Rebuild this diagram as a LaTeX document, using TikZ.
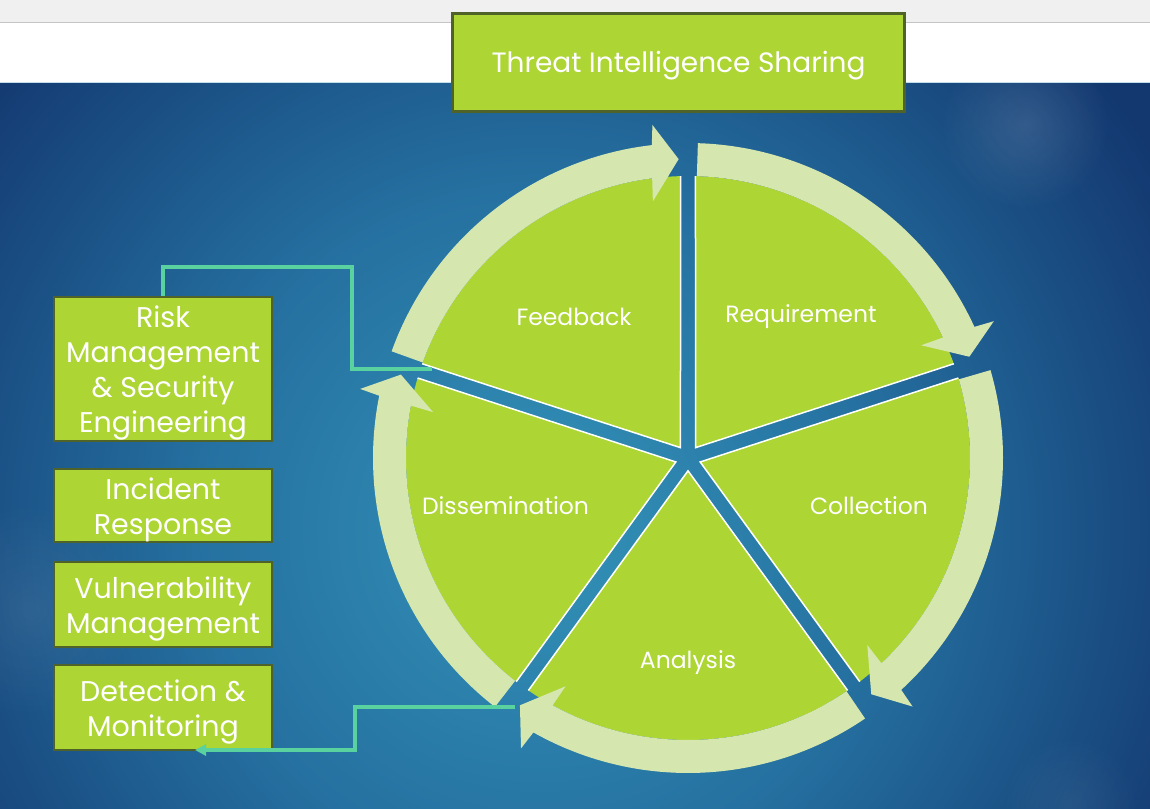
\documentclass[tikz,border=0pt]{standalone}
\usepackage{fontspec}
\setmainfont{Poppins}
\usetikzlibrary{arrows.meta,fadings}
\definecolor{wedgegreen}{HTML}{ADD533}
\definecolor{ringgreen}{HTML}{D5E7AF}
\definecolor{boxborder}{HTML}{4F6228}
\definecolor{navyc}{HTML}{133870}
\definecolor{midc}{HTML}{2570A0}
\definecolor{tealc}{HTML}{3393B8}
\definecolor{connc}{HTML}{5AD2A0}
\definecolor{topgray}{HTML}{F0F0F0}
\definecolor{linegray}{HTML}{C4C4C4}
\pgfdeclareradialshading{bgshade}{\pgfpoint{0bp}{0bp}}{color(0bp)=(tealc); color(6bp)=(midc); color(12.5bp)=(navyc); color(25bp)=(navyc); color(50bp)=(navyc)}
\tikzfading[name=softspot, inner color=transparent!0, outer color=transparent!100]
\begin{document}
\begin{tikzpicture}[x=1pt,y=-1pt,
  gbox/.style={draw=boxborder, line width=2.5pt, fill=wedgegreen, inner sep=0pt},
  btext/.style={text=white, align=center, inner sep=0pt, font=\fontsize{28.5}{35}\selectfont},
  ttext/.style={text=white, inner sep=0pt, font=\fontsize{28}{32}\selectfont},
  wlabel/.style={text=white, font=\fontsize{23.5}{27}\selectfont},
  conn/.style={draw=connc, line width=3.5pt, line join=miter}]
\useasboundingbox (0,0) rectangle (1150,808);
% window strips
\fill[topgray] (0,0) rectangle (1150,22);
\fill[white] (0,23) rectangle (1150,82);
\draw[linegray, line width=1pt] (0,22.5) -- (1150,22.5);
% background
\begin{scope}
  \clip (0,82) rectangle (1150,808);
  \fill[navyc] (0,82) rectangle (1150,808);
  \shade[shading=bgshade] (540,530) circle (1440);
  \fill[white, opacity=0.12, path fading=softspot] (1025,125) circle (85);
  \fill[white, opacity=0.07, path fading=softspot] (30,610) circle (110);
  \fill[white, opacity=0.06, path fading=softspot] (1070,805) circle (70);
\end{scope}
\draw[white!70!tealc, line width=0.8pt] (0,82.5) -- (1150,82.5);
% wheel
\begin{scope}[shift={(688,458)}, yscale=-1]
  \foreach \m in {126,54,-18,-90,-162} {
    \fill[wedgegreen] (\m:12.8) -- ({\m+34.48}:282)
      arc[start angle={\m+34.48}, end angle={\m-34.48}, radius=282] -- cycle;
    \draw[white, line width=1.5pt, line join=miter]
      ({\m+34.48}:282) -- (\m:12.8) -- ({\m-34.48}:282);
  }
  \foreach \m in {126,54,-18,-90,-162} {
    \pgfmathsetmacro\s{\m+34.2}
    \pgfmathsetmacro\e{\m-34.2}
    \fill[ringgreen] (\s:282) arc[start angle=\s, end angle={\e+5.5}, radius=282]
      -- ({\e+6}:259) -- (\e:299) -- ({\e+4.3}:335) -- ({\e+4.8}:315)
      arc[start angle={\e+4.8}, end angle=\s, radius=315] -- cycle;
  }
\end{scope}
% wedge labels
\node[wlabel] (feedback) at (574,317) {Feedback};
\node[wlabel] (requirement) at (801,317) {Requirement};
\node[wlabel] (collection) at (869,506) {Collection};
\node[wlabel] (analysis) at (688,663) {Analysis};
\node[wlabel] (dissemination) at (505.5,506) {Dissemination};
% title
\node[gbox, minimum width=452pt, minimum height=98pt] (title) at (678.5,62.5) {};
\node[ttext] (titletext) at ([yshift=-3pt]title.center) {Threat Intelligence Sharing};
% connector end points
\coordinate (c1) at (432,369);
\coordinate (c2) at (515,707);
\coordinate (c3) at (195,750);
% left boxes
\node[gbox, minimum width=218pt, minimum height=144pt] (risk) at (163,369) {};
\node[gbox, minimum width=218pt, minimum height=73pt] (incident) at (163,505.5) {};
\node[gbox, minimum width=218pt, minimum height=85pt] (vuln) at (163,604.5) {};
\node[gbox, minimum width=218pt, minimum height=85pt] (detect) at (163,707.5) {};
\node[btext] (risktext) at ([yshift=-4pt]risk.center) {Risk\\Management\\\&~Security\\Engineering};
\node[btext] (incidenttext) at ([yshift=-4pt]incident.center) {Incident\\Response};
\node[btext] (vulntext) at ([yshift=-4pt]vuln.center) {Vulnerability\\Management};
\node[btext] (detecttext) at ([yshift=-4pt]detect.center) {Detection \&\\Monitoring};
% connectors
\draw[conn] (c1) -| (352,267) -| (risk.north);
\draw[conn, -{Triangle[length=11pt,width=11pt]}] (c2) -| (355,750) -- (c3);
\end{tikzpicture}
\end{document}
